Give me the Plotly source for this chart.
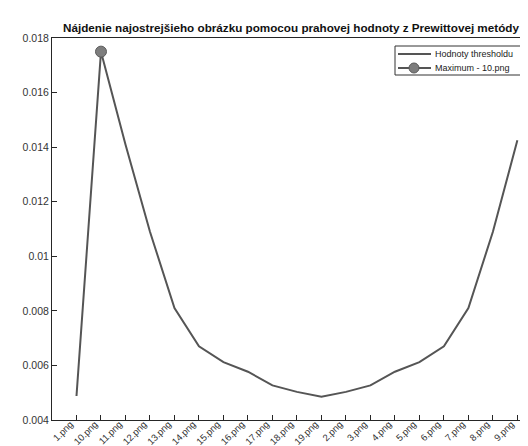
import plotly.graph_objects as go

categories = ["1.png", "10.png", "11.png", "12.png", "13.png", "14.png", "15.png",
              "16.png", "17.png", "18.png", "19.png", "2.png", "3.png", "4.png",
              "5.png", "6.png", "7.png", "8.png", "9.png"]
threshold_values = [0.00488, 0.01750, 0.01410, 0.01090, 0.00810, 0.00670, 0.00612,
                    0.00577, 0.00527, 0.00503, 0.00485, 0.00503, 0.00527, 0.00577,
                    0.00612, 0.00670, 0.00810, 0.01090, 0.01425]
max_label = "10.png"
max_value = 0.01750
series_names = ["Hodnoty thresholdu", "Maximum - " + max_label]

y_tick_vals = [0.004, 0.006, 0.008, 0.01, 0.012, 0.014, 0.016, 0.018]
y_tick_text = ["0.004", "0.006", "0.008", "0.01", "0.012", "0.014", "0.016", "0.018"]

x_pos = list(range(1, len(categories) + 1))
max_pos = categories.index(max_label) + 1

W, H = 528, 446
ML, MR, MT, MB = 44, 0, 30, 34
LINE_COLOR = "#555555"
MARKER_FILL = "#7d7d7d"


def px(x):
    return (x - ML) / (W - ML - MR)


def py(y):
    return (H - MB - y) / (H - MB - MT)


fig = go.Figure()
fig.add_trace(go.Scatter(
    x=x_pos, y=threshold_values, mode="lines", name=series_names[0],
    line=dict(color=LINE_COLOR, width=2), showlegend=False))
fig.add_trace(go.Scatter(
    x=[max_pos], y=[max_value], mode="markers", name=series_names[1],
    marker=dict(size=11, color=MARKER_FILL, line=dict(color="#5a5a5a", width=1)),
    showlegend=False))

# compact legend box (MATLAB style)
shapes = [
    dict(type="rect", xref="paper", yref="paper", x0=px(387), x1=px(540),
         y0=py(67), y1=py(38), line=dict(color="#333333", width=1), fillcolor="white",
         layer="above"),
    dict(type="line", xref="paper", yref="paper", x0=px(390), x1=px(423),
         y0=py(46), y1=py(46), line=dict(color=LINE_COLOR, width=2), layer="above"),
    dict(type="line", xref="paper", yref="paper", x0=px(390), x1=px(423),
         y0=py(60), y1=py(60), line=dict(color=LINE_COLOR, width=2), layer="above"),
    dict(type="circle", xref="paper", yref="paper", xsizemode="pixel", ysizemode="pixel",
         xanchor=px(406), yanchor=py(60), x0=-5, x1=5, y0=-5, y1=5,
         fillcolor=MARKER_FILL, line=dict(color="#5a5a5a", width=1), layer="above"),
]
annotations = [
    dict(xref="paper", yref="paper", x=px(425), y=py(46), xanchor="left", yanchor="middle",
         text=series_names[0], showarrow=False, font=dict(size=9, color="#222222")),
    dict(xref="paper", yref="paper", x=px(425), y=py(60), xanchor="left", yanchor="middle",
         text=series_names[1], showarrow=False, font=dict(size=9, color="#222222")),
]

fig.update_layout(
    width=W, height=H,
    margin=dict(l=ML, r=MR, t=MT, b=MB, autoexpand=False),
    paper_bgcolor="white", plot_bgcolor="white",
    font=dict(family="Liberation Sans, Arial, sans-serif", color="#262626", size=10),
    title=dict(text="<b>Nájdenie najostrejšieho obrázku pomocou prahovej hodnoty z Prewittovej metódy</b>",
               x=283 / W, xanchor="center", y=1 - 24 / H, yanchor="bottom",
               font=dict(size=11.7, color="#111111")),
    showlegend=False,
    shapes=shapes,
    annotations=annotations,
)
fig.update_xaxes(
    range=[0, 19.76], tickvals=x_pos, ticktext=categories, tickangle=-45,
    showgrid=False, zeroline=False, showline=True, linecolor="#262626", linewidth=1,
    mirror=True, ticks="inside", ticklen=5, tickcolor="#262626", automargin=False,
    ticklabelstandoff=-6, ticklabelshift=-6,
    tickfont=dict(size=9.5, color="#333333"))
fig.update_yaxes(
    range=[0.004, 0.018], tickvals=y_tick_vals, ticktext=y_tick_text,
    showgrid=False, zeroline=False, showline=True, linecolor="#262626", linewidth=1,
    ticks="inside", ticklen=5, tickcolor="#262626", automargin=False,
    tickfont=dict(size=10.5, color="#333333"))

fig.write_html("out.html")
